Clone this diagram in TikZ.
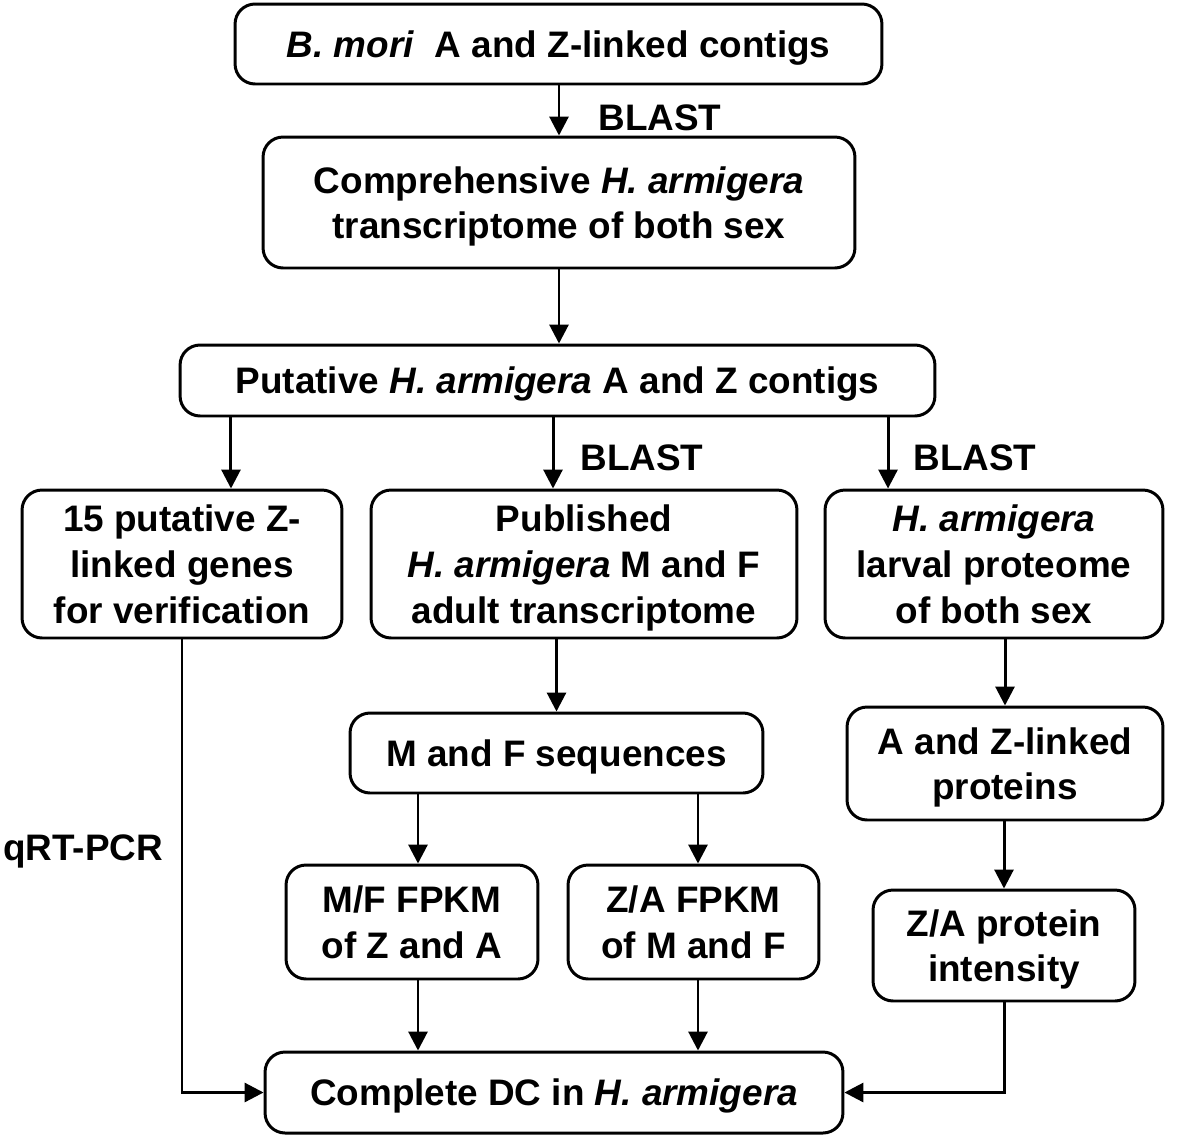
\documentclass[tikz,border=0pt]{standalone}
\usepackage{fontspec}
\setmainfont{Liberation Sans}
\usetikzlibrary{positioning, arrows.meta, calc}

\begin{document}
\begin{tikzpicture}[
  x=0.02cm, y=-0.02cm,
  every node/.style={font=\fontsize{21}{26}\selectfont\bfseries},
  arr/.style={-{Triangle[length=0.38cm, width=0.38cm]}, line width=1.7pt},
  block/.style={draw, rounded corners=0.4cm, line width=1.7pt, align=center,
                inner sep=0pt, text depth=0pt},
  lbl/.style={inner sep=0pt}
]
\useasboundingbox (0,0) rectangle (1181,1137);

% ---- Top of the flow ----
\node[block, minimum width=12.94cm, minimum height=1.6cm] (bmori) at (558.5,44)
  {\textit{B. mori}\ \ A and Z-linked contigs};

\node[block, minimum width=11.84cm, minimum height=2.62cm] (compr) at (559,202.5)
  {Comprehensive \textit{H. armigera}\\transcriptome of both sex};

\node[block, minimum width=15.1cm, minimum height=1.42cm] (putative) at (557.5,380.5)
  {Putative \textit{H. armigera} A and Z contigs};

% ---- Three branches ----
\node[block, minimum width=6.4cm, minimum height=2.96cm] (zgenes) at (182,564)
  {15 putative Z-\\linked genes\\for verification};

\node[block, minimum width=8.52cm, minimum height=2.96cm] (published) at (584,564)
  {Published\\\textit{H. armigera} M and F\\adult transcriptome};

\node[block, minimum width=6.76cm, minimum height=2.96cm] (proteome) at (994,564)
  {\textit{H. armigera}\\larval proteome\\of both sex};

\node[block, minimum width=8.26cm, minimum height=1.6cm] (mfseq) at (556.5,753)
  {M and F sequences};

\node[block, minimum width=6.32cm, minimum height=2.26cm] (azprot) at (1005,763.5)
  {A and Z-linked\\proteins};

\node[block, minimum width=5.04cm, minimum height=2.28cm] (mffpkm) at (412,922)
  {M/F FPKM\\of Z and A};

\node[block, minimum width=5.02cm, minimum height=2.28cm] (zafpkm) at (693.5,922)
  {Z/A FPKM\\of M and F};

\node[block, minimum width=5.24cm, minimum height=2.22cm] (intens) at (1004,945.5)
  {Z/A protein\\intensity};

% ---- Result ----
\node[block, minimum width=11.56cm, minimum height=1.62cm] (dc) at (554,1092.5)
  {Complete DC in \textit{H. armigera}};

% ---- Labels ----
\node[lbl] (blast1) at (660,118) {BLAST};
\node[lbl] (blast2) at (642,458) {BLAST};
\node[lbl] (blast3) at (975,458) {BLAST};
\node[lbl] (qrt) at (83,851) {qRT-PCR};

% ---- Arrows ----
\draw[arr] (bmori.south -| compr.north) -- (compr.north);
\draw[arr] (compr.south) -- (compr.south |- putative.north);
\draw[arr] ([xshift=0.98cm]zgenes.north |- putative.south) -- ([xshift=0.98cm]zgenes.north);
\draw[arr] ([xshift=-0.62cm]published.north |- putative.south) -- ([xshift=-0.62cm]published.north);
\draw[arr] ([xshift=-2.12cm]proteome.north |- putative.south) -- ([xshift=-2.12cm]proteome.north);
\draw[arr] (mfseq.north |- published.south) -- (mfseq.north);
\draw[arr] (azprot.north |- proteome.south) -- (azprot.north);
\draw[arr] ([xshift=0.12cm]mffpkm.north |- mfseq.south) -- ([xshift=0.12cm]mffpkm.north);
\draw[arr] ([xshift=0.09cm]zafpkm.north |- mfseq.south) -- ([xshift=0.09cm]zafpkm.north);
\draw[arr] (intens.north |- azprot.south) -- (intens.north);
\draw[arr] ([xshift=0.12cm]mffpkm.south) -- ([xshift=0.12cm]mffpkm.south |- dc.north);
\draw[arr] ([xshift=0.09cm]zafpkm.south) -- ([xshift=0.09cm]zafpkm.south |- dc.north);
\draw[arr] (zgenes.south) |- (dc.west);
\draw[arr] (intens.south) |- (dc.east);

\end{tikzpicture}
\end{document}
